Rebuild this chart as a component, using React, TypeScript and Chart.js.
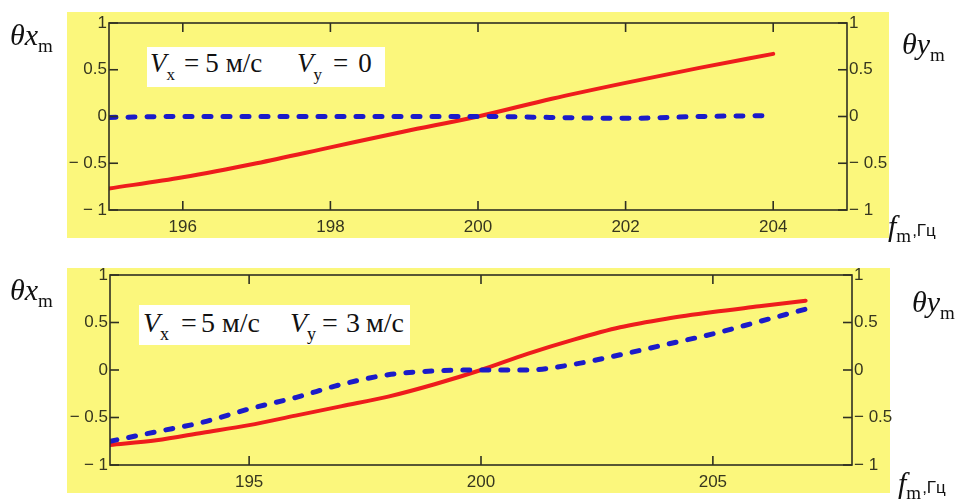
import React, { useEffect, useRef } from "react";
import { Chart, registerables } from "chart.js";

Chart.register(...registerables);

// Upper panel: Vx = 5 м/с, Vy = 0
const FREQ_TOP = [195, 196, 197, 198, 199, 200, 201, 202, 203, 204];
const THETA_X_TOP = [-0.77, -0.65, -0.5, -0.33, -0.16, 0, 0.19, 0.36, 0.52, 0.67];
const THETA_Y_TOP = [-0.01, 0, 0, 0, 0, 0, -0.01, -0.02, 0, 0.01];
const X_TICKS_TOP = [196, 198, 200, 202, 204];

// Lower panel: Vx = 5 м/с, Vy = 3 м/с
const FREQ_BOTTOM = [192, 193, 194, 195, 196, 197, 198, 199, 200, 201, 202, 203, 204, 205, 206, 207];
const THETA_X_BOTTOM = [-0.79, -0.74, -0.66, -0.58, -0.48, -0.38, -0.28, -0.15, 0, 0.17, 0.32, 0.45, 0.54, 0.61, 0.67, 0.73];
const THETA_Y_BOTTOM = [-0.75, -0.65, -0.55, -0.41, -0.29, -0.15, -0.05, -0.01, 0, 0, 0.06, 0.16, 0.27, 0.38, 0.51, 0.64];
const X_TICKS_BOTTOM = [195, 200, 205];

const Y_TICKS = [-1, -0.5, 0, 0.5, 1];

const YELLOW = "#fbf77c";
const AXIS = "#2f2f22";
const LABEL = "#36361f";
const RED = "#ee1c1c";
const BLUE = "#1b1bc9";
const SERIF = '"Liberation Serif", "Times New Roman", serif';
const SANS = '"Liberation Sans", Arial, sans-serif';
const TICK = 9;

type Panel = {
  freq: number[];
  thetaX: number[];
  thetaY: number[];
  xTicks: number[];
  xMin: number;
  xMax: number;
  height: number;
  area: { left: number; right: number; top: number; bottom: number };
  bg: { x0: number; y0: number; x1: number; y1: number };
};

const PANEL_TOP: Panel = {
  freq: FREQ_TOP,
  thetaX: THETA_X_TOP,
  thetaY: THETA_Y_TOP,
  xTicks: X_TICKS_TOP,
  xMin: 195,
  xMax: 205,
  height: 249,
  area: { left: 109, right: 847, top: 23, bottom: 210 },
  bg: { x0: 67, y0: 12, x1: 889, y1: 238 },
};

const PANEL_BOTTOM: Panel = {
  freq: FREQ_BOTTOM,
  thetaX: THETA_X_BOTTOM,
  thetaY: THETA_Y_BOTTOM,
  xTicks: X_TICKS_BOTTOM,
  xMin: 192,
  xMax: 208,
  height: 250,
  area: { left: 110, right: 852, top: 26, bottom: 216 },
  bg: { x0: 67, y0: 19, x1: 890, y1: 244 },
};

const fmtY = (v: number) => (v < 0 ? "\u2212 " + Math.abs(v) : String(v));

function framePlugin(p: Panel) {
  return {
    id: "frame",
    beforeDraw(chart: any) {
      const ctx = chart.ctx;
      ctx.save();
      ctx.fillStyle = YELLOW;
      ctx.fillRect(p.bg.x0, p.bg.y0, p.bg.x1 - p.bg.x0, p.bg.y1 - p.bg.y0);
      ctx.restore();
    },
    afterDraw(chart: any) {
      const ctx = chart.ctx;
      const { left, right, top, bottom } = chart.chartArea;
      ctx.save();
      ctx.strokeStyle = AXIS;
      ctx.lineWidth = 1.6;
      ctx.strokeRect(left, top, right - left, bottom - top);
      const seg = (x0: number, y0: number, x1: number, y1: number) => {
        ctx.beginPath();
        ctx.moveTo(x0, y0);
        ctx.lineTo(x1, y1);
        ctx.stroke();
      };
      const xs = chart.scales.x;
      xs.ticks.forEach((t: any) => {
        const px = xs.getPixelForValue(t.value);
        seg(px, bottom, px, bottom - TICK);
        seg(px, top, px, top + TICK);
      });
      const ys = chart.scales.y;
      ys.ticks.forEach((t: any) => {
        const py = ys.getPixelForValue(t.value);
        seg(left, py, left + TICK, py);
        seg(right, py, right - TICK, py);
      });
      ctx.restore();
    },
  };
}

function PanelChart({ panel, top }: { panel: Panel; top: number }) {
  const ref = useRef<HTMLCanvasElement>(null);
  useEffect(() => {
    const p = panel;
    const tickFont = { family: SANS, size: 17 };
    const yAxis = (position: string, width: number) => ({
      type: "linear",
      position,
      min: -1,
      max: 1,
      afterBuildTicks: (s: any) => {
        s.ticks = Y_TICKS.map((v) => ({ value: v }));
      },
      afterFit: (s: any) => {
        s.width = width;
      },
      grid: { display: false, drawTicks: false },
      border: { display: false },
      ticks: { font: tickFont, color: LABEL, padding: 2, autoSkip: false, callback: (v: any) => fmtY(Number(v)) },
    });
    const chart = new Chart(ref.current!, {
      type: "line",
      data: {
        datasets: [
          {
            data: p.freq.map((f, i) => ({ x: f, y: p.thetaX[i] })),
            borderColor: RED,
            borderWidth: 4,
            pointRadius: 0,
            cubicInterpolationMode: "monotone",
            borderCapStyle: "round",
            borderJoinStyle: "round",
            order: 1,
          },
          {
            data: p.freq.map((f, i) => ({ x: f, y: p.thetaY[i] })),
            borderColor: BLUE,
            borderWidth: 5,
            borderDash: [7, 12],
            pointRadius: 0,
            cubicInterpolationMode: "monotone",
            borderCapStyle: "round",
            borderJoinStyle: "round",
            order: 0,
          },
        ],
      },
      options: {
        responsive: false,
        maintainAspectRatio: false,
        devicePixelRatio: 1,
        animation: false,
        events: [],
        layout: { padding: { top: p.area.top, bottom: 0, left: 0, right: 0 } },
        plugins: { legend: { display: false }, tooltip: { enabled: false } },
        scales: {
          x: {
            type: "linear",
            min: p.xMin,
            max: p.xMax,
            afterBuildTicks: (s: any) => {
              s.ticks = p.xTicks.map((v) => ({ value: v }));
            },
            afterFit: (s: any) => {
              s.height = p.height - p.area.bottom;
            },
            grid: { display: false, drawTicks: false },
            border: { display: false },
            ticks: { font: tickFont, color: LABEL, padding: 7, autoSkip: false, maxRotation: 0, callback: (v: any) => String(v) },
          },
          y: yAxis("left", p.area.left),
          y2: yAxis("right", 960 - p.area.right),
        },
      } as any,
      plugins: [framePlugin(p)],
    } as any);
    return () => chart.destroy();
  }, [panel]);
  return (
    <canvas
      ref={ref}
      width={960}
      height={panel.height}
      style={{ position: "absolute", left: 0, top, width: 960, height: panel.height }}
    />
  );
}

function MathText({ x, base, size, children }: { x: number; base: number; size: number; children: React.ReactNode }) {
  return (
    <div
      style={{
        position: "absolute",
        left: x,
        top: base - 0.837 * size,
        fontSize: size,
        lineHeight: `${size}px`,
        fontFamily: SERIF,
        whiteSpace: "nowrap",
        color: "#111",
      }}
    >
      {children}
    </div>
  );
}

const I = ({ children }: { children: React.ReactNode }) => <span style={{ fontStyle: "italic" }}>{children}</span>;

const Sub = ({ children, size, drop }: { children: React.ReactNode; size: number; drop: number }) => (
  <span style={{ fontSize: size, position: "relative", top: drop, lineHeight: 0, fontStyle: "normal" }}>{children}</span>
);

const Gap = ({ w, children }: { w: number; children: React.ReactNode }) => (
  <span style={{ marginLeft: w }}>{children}</span>
);

const ThetaLabel = ({ x, base, axis }: { x: number; base: number; axis: string }) => (
  <MathText x={x} base={base} size={30}>
    <I>θ{axis}</I>
    <Sub size={19} drop={7}>m</Sub>
  </MathText>
);

const FreqLabel = ({ x, base }: { x: number; base: number }) => (
  <MathText x={x} base={base} size={30}>
    <I>f</I>
    <Sub size={19} drop={6}>m</Sub>
    <span style={{ fontFamily: SANS, fontSize: 17, position: "relative", top: 0, lineHeight: 0, marginLeft: 1 }}>,Гц</span>
  </MathText>
);

function Note({ box, parts }: { box: [number, number, number, number]; parts: React.ReactNode[] }) {
  return (
    <>
      <div style={{ position: "absolute", left: box[0], top: box[1], width: box[2], height: box[3], background: "#ffffff" }} />
      {parts}
    </>
  );
}

export default function App() {
  return (
    <div
      style={{
        position: "fixed",
        left: 0,
        top: 0,
        width: 960,
        height: 499,
        background: "#ffffff",
        overflow: "hidden",
      }}
    >
      <PanelChart panel={PANEL_TOP} top={0} />
      <PanelChart panel={PANEL_BOTTOM} top={249} />

      <Note
        box={[147, 47, 238, 40]}
        parts={[
          <MathText key="a" x={150} base={73} size={27}>
            <I>V</I>
            <Sub size={17} drop={8}>x</Sub>
            <Gap w={9}>=</Gap>
            <Gap w={6}>5</Gap>
            <Gap w={7}>м/с</Gap>
          </MathText>,
          <MathText key="b" x={297} base={73} size={27}>
            <I>V</I>
            <Sub size={17} drop={8}>y</Sub>
            <Gap w={11}>=</Gap>
            <Gap w={10}>0</Gap>
          </MathText>,
        ]}
      />

      <Note
        box={[139, 305, 271, 40]}
        parts={[
          <MathText key="c" x={143} base={332} size={28}>
            <I>V</I>
            <Sub size={18} drop={8}>x</Sub>
            <Gap w={12}>=</Gap>
            <Gap w={4}>5</Gap>
            <Gap w={7}>м/с</Gap>
          </MathText>,
          <MathText key="d" x={290} base={332} size={28}>
            <I>V</I>
            <Sub size={18} drop={8}>y</Sub>
            <Gap w={6}>=</Gap>
            <Gap w={8}>3</Gap>
            <Gap w={6}>м/с</Gap>
          </MathText>,
        ]}
      />

      <ThetaLabel x={10} base={45} axis="x" />
      <ThetaLabel x={902} base={54} axis="y" />
      <FreqLabel x={888} base={236} />

      <ThetaLabel x={10} base={300} axis="x" />
      <ThetaLabel x={912} base={312} axis="y" />
      <FreqLabel x={898} base={493} />
    </div>
  );
}
